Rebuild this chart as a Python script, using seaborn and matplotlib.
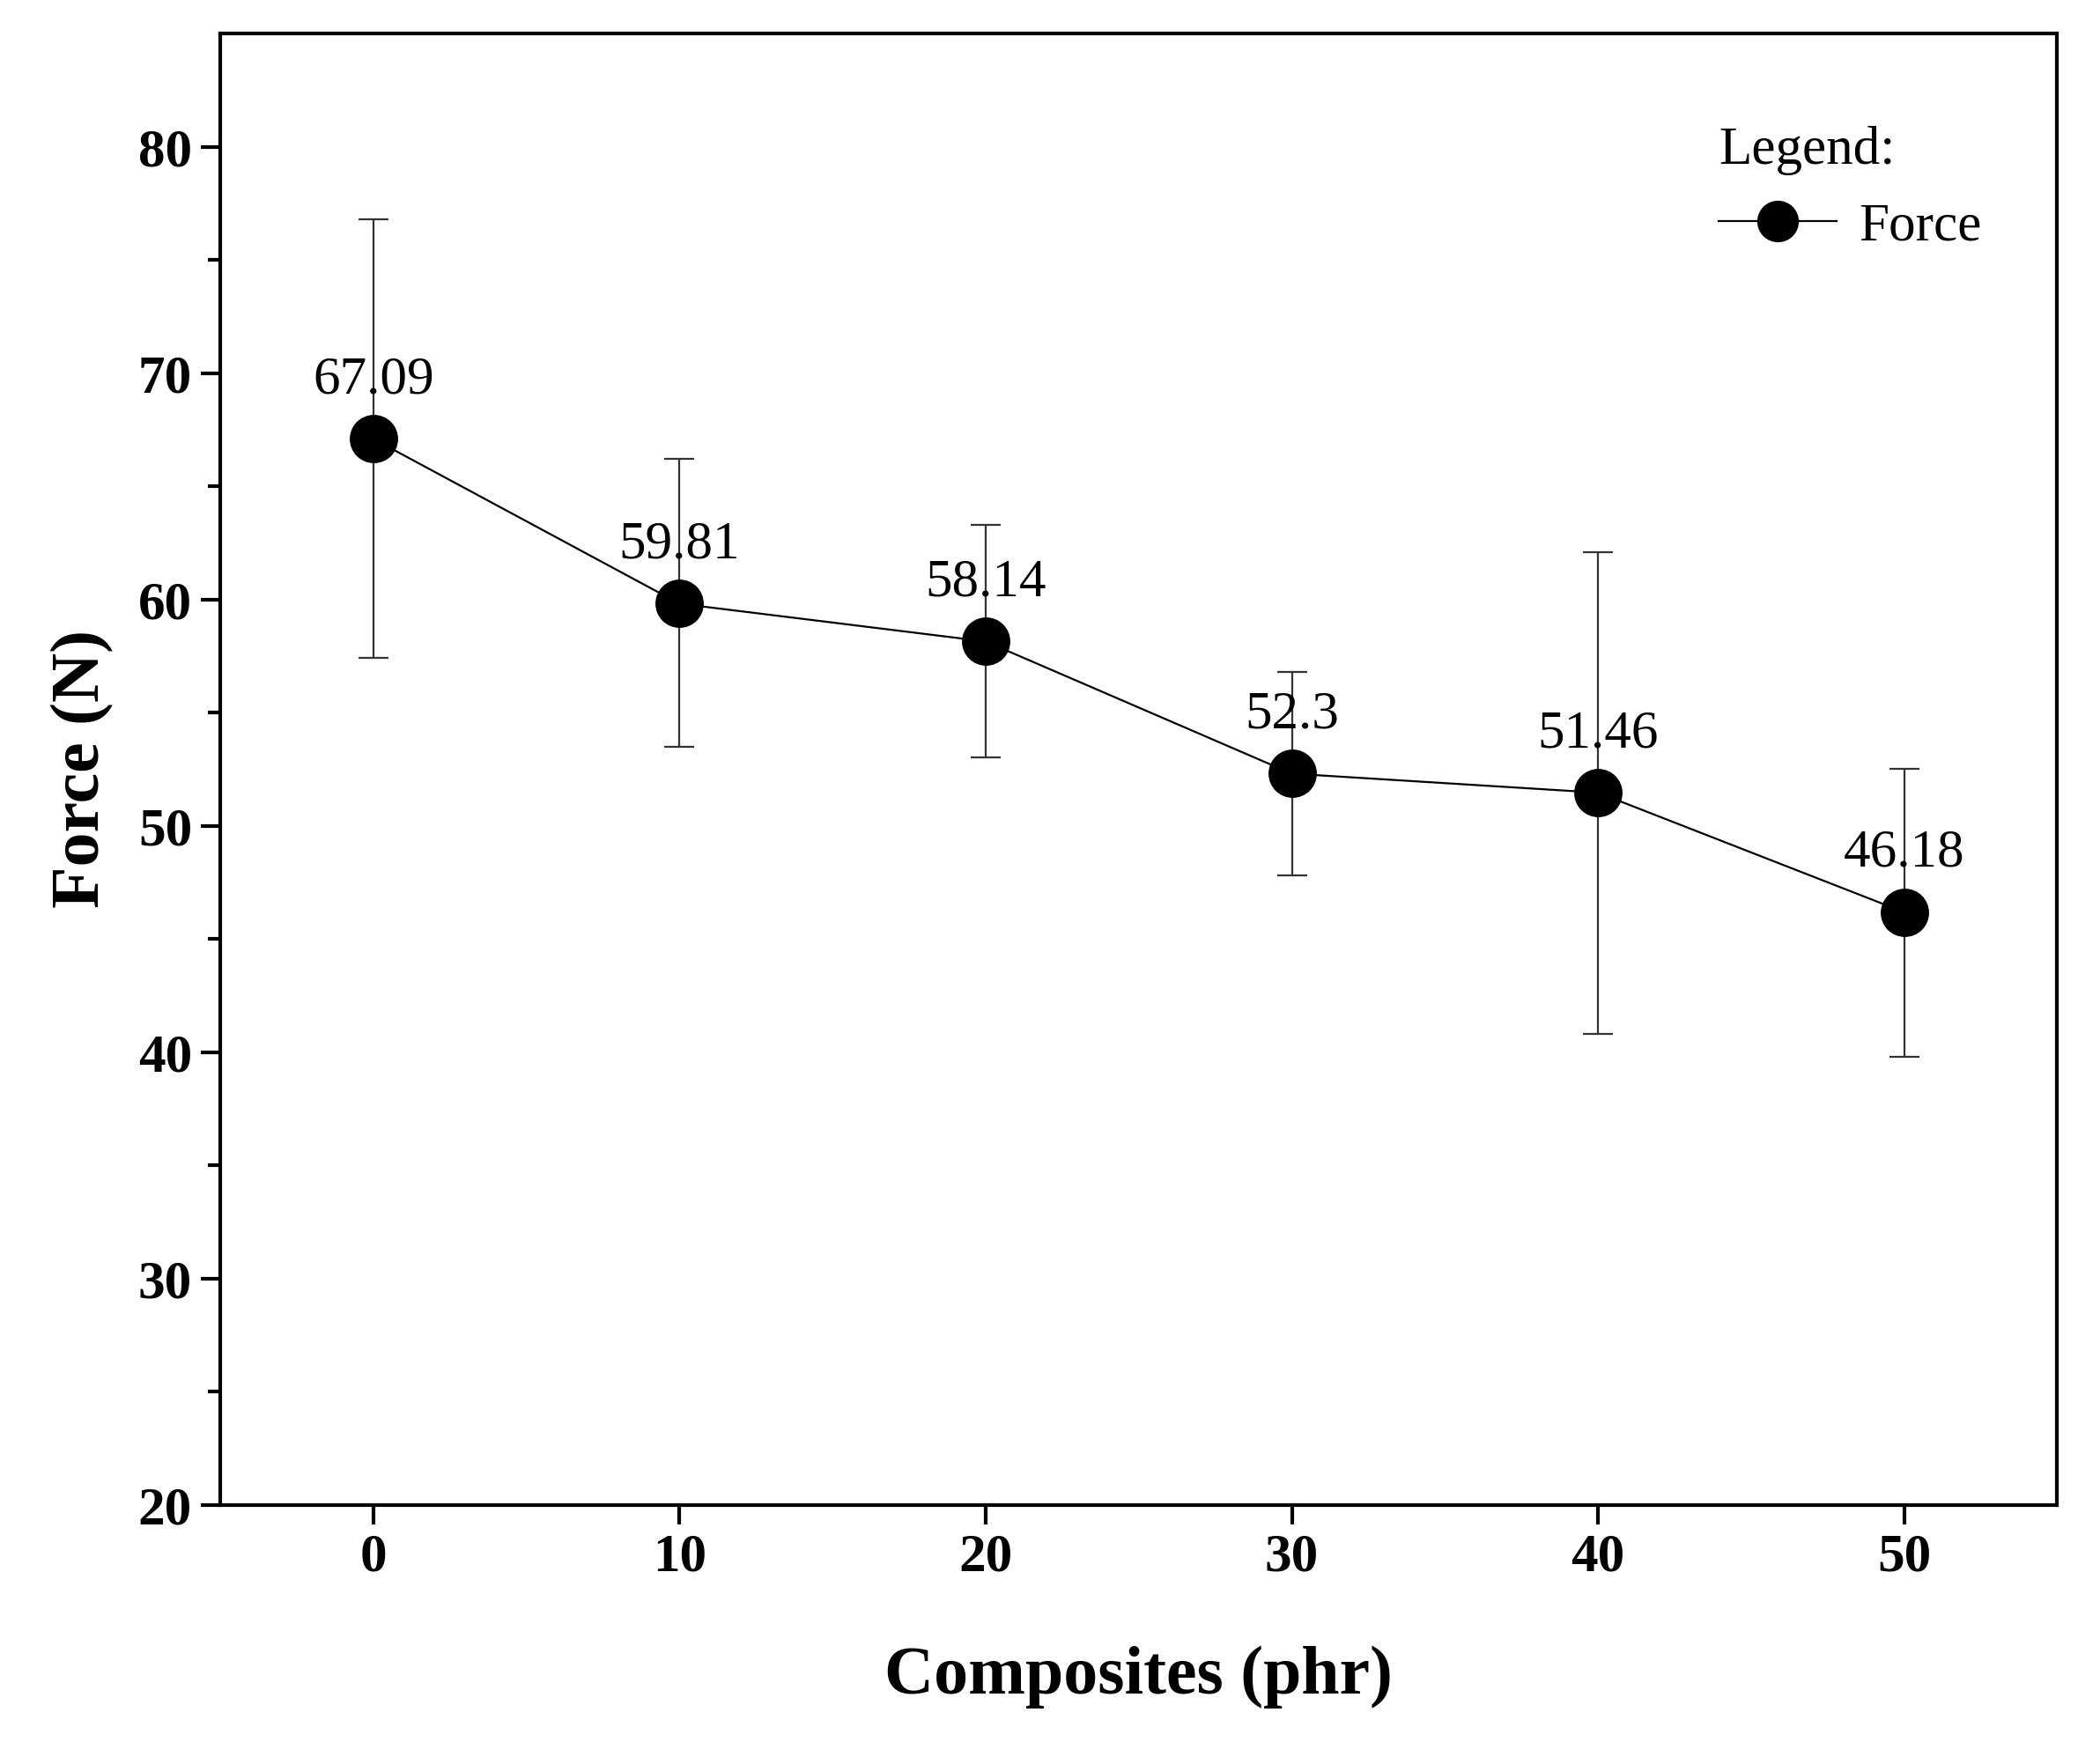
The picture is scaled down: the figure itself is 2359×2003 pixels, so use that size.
import matplotlib
matplotlib.use("Agg")
import matplotlib.pyplot as plt
import numpy as np
import pandas as pd
import seaborn as sns
from matplotlib.lines import Line2D

# data
composites = [0, 10, 20, 30, 40, 50]
force = [67.09, 59.81, 58.14, 52.3, 51.46, 46.18]
err_low = [57.4, 53.5, 53.0, 47.8, 40.8, 39.8]
err_high = [76.8, 66.2, 63.3, 56.8, 62.1, 52.5]
labels = ["67.09", "59.81", "58.14", "52.3", "51.46", "46.18"]

df = pd.DataFrame({"x": composites, "y": force})

plt.rcParams["font.family"] = "Liberation Serif"
fig = plt.figure(figsize=(11.795, 10.015), dpi=200)
ax = fig.add_axes([0.106, 0.147, 0.884, 0.834])

lower = np.array(force) - np.array(err_low)
upper = np.array(err_high) - np.array(force)
ax.errorbar(composites, force, yerr=[lower, upper], fmt="none",
            ecolor="#333333", elinewidth=0.8, capsize=6, capthick=0.8, zorder=1)
sns.lineplot(data=df, x="x", y="y", ax=ax, color="black", linewidth=0.8,
             marker="o", markersize=19, markeredgecolor="black", zorder=3)

for x, y, t in zip(composites, force, labels):
    ax.annotate(t, (x, y), xytext=(0, 14), textcoords="offset points",
                ha="center", va="bottom", fontsize=22)

ax.set_xlim(-5, 55)
ax.set_ylim(20, 85)
ax.set_xticks(composites)
ax.set_yticks(np.arange(20, 81, 10))
ax.set_yticks(np.arange(25, 85, 10), minor=True)
ax.tick_params(axis="both", which="major", direction="out", length=8, width=1.5,
               labelsize=22, top=False, right=False)
ax.tick_params(axis="y", which="minor", direction="out", length=5, width=1.5)
for lab in ax.get_xticklabels() + ax.get_yticklabels():
    lab.set_fontweight("bold")
for s in ax.spines.values():
    s.set_linewidth(1.5)

ax.set_xlabel("Composites (phr)", fontsize=28, fontweight="bold", labelpad=26)
ax.set_ylabel("Force (N)", fontsize=28, fontweight="bold", labelpad=10)

handle = Line2D([], [], color="black", linewidth=0.8, marker="o", markersize=16)
leg = ax.legend([handle], ["Force"], title="Legend:", loc="upper right",
                frameon=False, fontsize=22, title_fontsize=22,
                bbox_to_anchor=(0.985, 0.97), handlelength=2.2, handletextpad=0.4)
leg._legend_box.align = "left"

fig.savefig("out.png", dpi=200)
